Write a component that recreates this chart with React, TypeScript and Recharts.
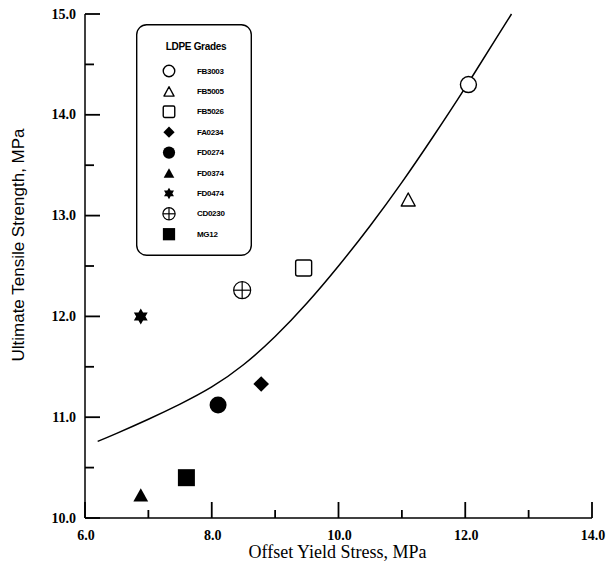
import { ComposedChart, Legend, Line, Scatter, XAxis, YAxis } from 'recharts';

// LDPE grades
const grades = ['FB3003', 'FB5005', 'FB5026', 'FA0234', 'FD0274', 'FD0374', 'FD0474', 'CD0230', 'MG12'];
const markers = ['openCircle', 'openTriangle', 'openSquare', 'diamond', 'dot', 'triangle', 'hexStar', 'crossCircle', 'square'];
const yieldStress = [12.05, 11.1, 9.45, 8.78, 8.1, 6.88, 6.88, 8.48, 7.6];
const tensileStrength = [14.3, 13.16, 12.48, 11.33, 11.12, 10.23, 12.0, 12.26, 10.4];

// fitted curve, traced point by point
const fitX = [6.2, 6.5, 7.0, 7.5, 8.0, 8.5, 9.0, 9.5, 10.0, 10.5, 11.0, 11.5, 12.0, 12.5, 12.73];
const fitY = [10.76, 10.84, 10.98, 11.13, 11.3, 11.52, 11.8, 12.13, 12.5, 12.9, 13.33, 13.79, 14.27, 14.77, 15.0];

const xTicks = [6, 7, 8, 9, 10, 11, 12, 13, 14];
const xMajor = [6, 8, 10, 12, 14];
const yTicks = [10, 10.5, 11, 11.5, 12, 12.5, 13, 13.5, 14, 14.5, 15];
const yMajor = [10, 11, 12, 13, 14, 15];

const W = 606;
const H = 569;
const INK = '#000';
const SERIF = '"Liberation Serif", "Times New Roman", serif';
const SANS = '"Liberation Sans", Arial, sans-serif';

const curve = fitX.map((x, i) => ({ x, y: fitY[i] }));
// tick marks sit on the axes and point into the plot
const xTickMarks = xTicks.map((x) => ({ x, y: 10 }));
const yTickMarks = yTicks.map((y) => ({ x: 6, y }));

/** One marker glyph; s scales it down for the legend. */
function Marker({ kind, cx, cy, s = 1 }: { kind: string; cx: number; cy: number; s?: number }) {
  const sw = 1.4;
  switch (kind) {
    case 'openCircle':
      return <circle cx={cx} cy={cy} r={8 * s} fill="#fff" stroke={INK} strokeWidth={sw} />;
    case 'openTriangle': {
      const w = 7 * s, h = 6.5 * s;
      return <polygon points={`${cx},${cy - h} ${cx + w},${cy + h} ${cx - w},${cy + h}`} fill="#fff" stroke={INK} strokeWidth={sw} strokeLinejoin="round" />;
    }
    case 'openSquare': {
      const a = 8 * s;
      return <rect x={cx - a} y={cy - a} width={2 * a} height={2 * a} rx={2 * s} fill="#fff" stroke={INK} strokeWidth={sw} />;
    }
    case 'diamond': {
      const a = 7.8 * s;
      return <polygon points={`${cx},${cy - a} ${cx + a},${cy} ${cx},${cy + a} ${cx - a},${cy}`} fill={INK} />;
    }
    case 'dot':
      return <circle cx={cx} cy={cy} r={8.5 * s} fill={INK} />;
    case 'triangle': {
      const w = 7.4 * s, h = 6.6 * s;
      return <polygon points={`${cx},${cy - h} ${cx + w},${cy + h} ${cx - w},${cy + h}`} fill={INK} />;
    }
    case 'hexStar': {
      const R = 8 * s, r = R / Math.sqrt(3);
      const pts = Array.from({ length: 12 }, (_, k) => {
        const a = (-90 + 30 * k) * (Math.PI / 180);
        const rr = k % 2 === 0 ? R : r;
        return `${cx + rr * Math.cos(a)},${cy + rr * Math.sin(a)}`;
      }).join(' ');
      return <polygon points={pts} fill={INK} />;
    }
    case 'crossCircle': {
      const r = 8.5 * s;
      return (
        <g stroke={INK} strokeWidth={1.2} fill="#fff">
          <circle cx={cx} cy={cy} r={r} />
          <line x1={cx - r} x2={cx + r} y1={cy} y2={cy} />
          <line x1={cx} x2={cx} y1={cy - r} y2={cy + r} />
        </g>
      );
    }
    case 'square': {
      const a = 8.5 * s;
      return <rect x={cx - a} y={cy - a} width={2 * a} height={2 * a} fill={INK} />;
    }
    default:
      return null;
  }
}

function XTick({ x, y, payload }: any) {
  const v = payload.value as number;
  if (!xMajor.includes(v)) return <g />;
  return (
    <text x={x + 1} y={y + 17} textAnchor="middle" dominantBaseline="central" fontFamily={SERIF} fontSize={14} fontWeight={700} fill={INK}>
      {v.toFixed(1)}
    </text>
  );
}

function YTick({ x, y, payload }: any) {
  const v = payload.value as number;
  if (!yMajor.includes(v)) return <g />;
  return (
    <text x={x - 9} y={y} textAnchor="end" dominantBaseline="central" fontFamily={SERIF} fontSize={14} fontWeight={700} fill={INK}>
      {v.toFixed(1)}
    </text>
  );
}

function xTickMark(p: any) {
  const len = xMajor.includes(p.payload?.x ?? p.x) ? 16 : 8;
  return <path d={`M${p.cx},${p.cy}v${-len}`} stroke={INK} strokeWidth={1.8} fill="none" />;
}

function yTickMark(p: any) {
  const len = yMajor.includes(p.payload?.y ?? p.y) ? 15 : 9;
  return <path d={`M${p.cx},${p.cy}h${len}`} stroke={INK} strokeWidth={1.8} fill="none" />;
}

function XTitle({ viewBox }: any) {
  const vb = viewBox ?? { x: 85, y: 518, width: 507, height: 51 };
  return (
    <text x={vb.x + vb.width / 2 - 1} y={vb.y + 34} textAnchor="middle" dominantBaseline="central" fontFamily={SERIF} fontSize={18} fill={INK}>
      Offset Yield Stress, MPa
    </text>
  );
}

function YTitle({ viewBox }: any) {
  const vb = viewBox ?? { x: 0, y: 14, width: 85, height: 504 };
  const cx = vb.x + 18;
  const cy = vb.y + vb.height / 2 - 21;
  return (
    <text x={cx} y={cy} transform={`rotate(-90, ${cx}, ${cy})`} textAnchor="middle" dominantBaseline="central" fontFamily={SANS} fontSize={17} fill={INK}>
      Ultimate Tensile Strength, MPa
    </text>
  );
}

function GradeLegend() {
  return (
    <svg width={116} height={232} style={{ display: 'block' }}>
      <rect x={0.7} y={0.7} width={114.6} height={230.6} rx={10} fill="#fff" stroke={INK} strokeWidth={1.4} />
      <text x={60} y={22} textAnchor="middle" dominantBaseline="central" fontFamily={SANS} fontSize={10} fontWeight={700} letterSpacing={-0.3} fill={INK}>
        LDPE Grades
      </text>
      {grades.map((g, i) => {
        const cy = 47 + i * 20.4;
        return (
          <g key={g}>
            <Marker kind={markers[i]} cx={33} cy={cy} s={0.72} />
            <text x={61} y={cy} dominantBaseline="central" fontFamily={SANS} fontSize={8} fontWeight={700} letterSpacing={-0.3} fill={INK}>
              {g}
            </text>
          </g>
        );
      })}
    </svg>
  );
}

export default function App() {
  return (
    <div style={{ position: 'fixed', left: 0, top: 0, width: W, height: H, background: '#fff' }}>
      <ComposedChart width={W} height={H} margin={{ top: 14, right: 14, bottom: 0, left: 0 }}>
        <XAxis
          type="number"
          dataKey="x"
          domain={[6, 14]}
          ticks={xTicks}
          interval={0}
          height={51}
          tickSize={0}
          tickMargin={0}
          tickLine={false}
          tick={<XTick />}
          axisLine={{ stroke: INK, strokeWidth: 1.5 }}
          label={{ content: XTitle }}
        />
        <YAxis
          type="number"
          dataKey="y"
          domain={[10, 15]}
          ticks={yTicks}
          interval={0}
          width={85}
          tickSize={0}
          tickMargin={0}
          tickLine={false}
          tick={<YTick />}
          axisLine={{ stroke: INK, strokeWidth: 1.5 }}
          label={{ content: YTitle }}
        />
        <Legend
          layout="vertical"
          align="center"
          verticalAlign="middle"
          wrapperStyle={{ left: 136, top: 24, width: 116, height: 232 }}
          content={() => <GradeLegend />}
        />
        <Scatter data={xTickMarks} dataKey="y" shape={xTickMark} legendType="none" isAnimationActive={false} />
        <Scatter data={yTickMarks} dataKey="y" shape={yTickMark} legendType="none" isAnimationActive={false} />
        <Line
          data={curve}
          dataKey="y"
          type="natural"
          dot={false}
          activeDot={false}
          stroke={INK}
          strokeWidth={1.5}
          legendType="none"
          isAnimationActive={false}
        />
        {grades.map((g, i) => (
          <Scatter
            key={g}
            name={g}
            data={[{ x: yieldStress[i], y: tensileStrength[i] }]}
            dataKey="y"
            isAnimationActive={false}
            shape={(p: any) => <Marker kind={markers[i]} cx={p.cx} cy={p.cy} />}
          />
        ))}
      </ComposedChart>
    </div>
  );
}
